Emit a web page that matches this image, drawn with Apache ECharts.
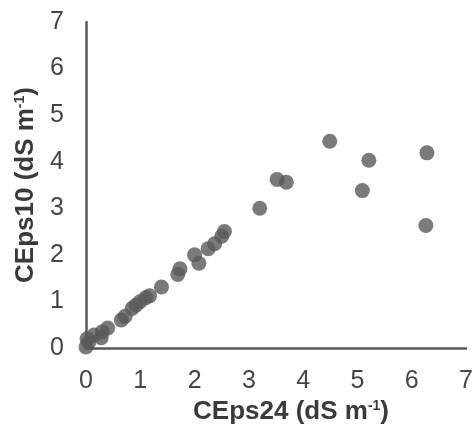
<!DOCTYPE html>
<html>
<head>
<meta charset="utf-8">
<script src="https://cdn.jsdelivr.net/npm/echarts@6/dist/echarts.min.js"></script>
<style>
  html, body { margin: 0; padding: 0; background: #fff; }
  #chart { width: 476px; height: 430px; }
</style>
</head>
<body>
<div id="chart"></div>
<script>
// CEps24 (x) vs CEps10 (y)
var ceps24 = [0.00, 0.02, 0.05, 0.15, 0.28, 0.30, 0.40, 0.65, 0.72, 0.85, 0.92, 1.00, 1.10, 1.17,
              1.39, 1.69, 1.73, 2.00, 2.08, 2.25, 2.37, 2.50, 2.55, 3.20, 3.52, 3.69, 4.49, 5.09,
              5.21, 6.26, 6.28];
var ceps10 = [0.02, 0.20, 0.12, 0.28, 0.22, 0.35, 0.43, 0.60, 0.68, 0.85, 0.92, 1.00, 1.08, 1.12,
              1.31, 1.58, 1.70, 2.00, 1.82, 2.13, 2.24, 2.40, 2.50, 3.00, 3.62, 3.56, 4.44, 3.38,
              4.03, 2.63, 4.19];
var axisTicks = [0, 1, 2, 3, 4, 5, 6, 7];

var points = [];
for (var i = 0; i < ceps24.length; i++) {
    points.push([ceps24[i], ceps10[i]]);
}

var fontFamily = "'Liberation Sans', Arial, sans-serif";
var nameRich = {
    sup: {fontSize: 14, fontWeight: 'bold', color: '#3a3a3a', fontFamily: fontFamily, verticalAlign: 'top'}
};

function axisOpt(name, gap) {
    return {
        type: 'value',
        min: axisTicks[0],
        max: axisTicks[axisTicks.length - 1],
        interval: 1,
        name: name,
        nameLocation: 'middle',
        nameGap: gap,
        nameTextStyle: {fontSize: 26, fontWeight: 'bold', color: '#3a3a3a', fontFamily: fontFamily, rich: nameRich},
        axisLine: {show: true, lineStyle: {color: '#595959', width: 2.5}},
        axisTick: {show: false},
        splitLine: {show: false},
        axisLabel: {fontSize: 25, color: '#454545', fontFamily: fontFamily, margin: 21}
    };
}

var myChart = echarts.init(document.getElementById('chart'));
var xAxis = axisOpt('CEps24 (dS m{sup|-1})', 51);
xAxis.nameTextStyle.padding = [0, 0, 0, 30];
var yAxis = axisOpt('CEps10 (dS m{sup|-1})', 43);
yAxis.axisLabel.margin = 22;

var option = {
    animation: false,
    backgroundColor: '#fff',
    grid: {left: 86, right: 8, top: 22, bottom: 80},
    xAxis: xAxis,
    yAxis: yAxis,
    series: [{
        type: 'scatter',
        symbolSize: 15,
        itemStyle: {color: '#595959'},
        data: points
    }]
};
myChart.setOption(option);
</script>
</body>
</html>
